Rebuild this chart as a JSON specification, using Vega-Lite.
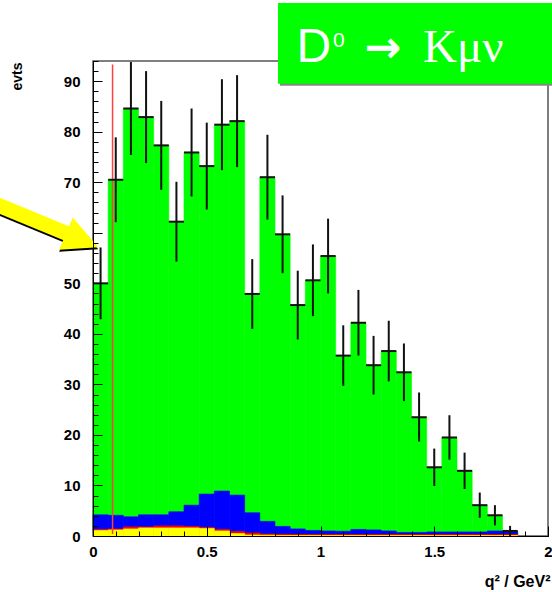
{
  "$schema": "https://vega.github.io/schema/vega-lite/v6.json",
  "width": 455,
  "height": 475,
  "autosize": "none",
  "padding": {"left": 93, "top": 61, "right": 4, "bottom": 56},
  "background": "white",
  "config": {
    "view": {"stroke": "#555555", "strokeWidth": 1.5},
    "axis": {"grid": false}
  },
  "resolve": {
    "scale": {"x": "independent", "y": "independent"},
    "axis": {"x": "independent", "y": "independent"}
  },
  "datasets": {
    "hist": [
      {"lo": 0, "hi": 0.0667, "c": 0.0333, "total": 50, "elo": 42.9, "ehi": 57.1, "blue": 4.2, "red": 1.3, "yellow": 1.1},
      {"lo": 0.0667, "hi": 0.1333, "c": 0.1, "total": 70.5, "elo": 62.1, "ehi": 78.9, "blue": 4.1, "red": 1.4, "yellow": 1.2},
      {"lo": 0.1333, "hi": 0.2, "c": 0.1667, "total": 84.6, "elo": 75.4, "ehi": 93.8, "blue": 3.8, "red": 1.8, "yellow": 1.4},
      {"lo": 0.2, "hi": 0.2667, "c": 0.2333, "total": 82.9, "elo": 73.8, "ehi": 92.0, "blue": 4.2, "red": 1.8, "yellow": 1.6},
      {"lo": 0.2667, "hi": 0.3333, "c": 0.3, "total": 77.3, "elo": 68.5, "ehi": 86.1, "blue": 4.2, "red": 2.0, "yellow": 1.6},
      {"lo": 0.3333, "hi": 0.4, "c": 0.3667, "total": 62.2, "elo": 54.3, "ehi": 70.1, "blue": 4.8, "red": 2.0, "yellow": 1.6},
      {"lo": 0.4, "hi": 0.4667, "c": 0.4333, "total": 75.9, "elo": 67.2, "ehi": 84.6, "blue": 6.1, "red": 1.9, "yellow": 1.6},
      {"lo": 0.4667, "hi": 0.5333, "c": 0.5, "total": 73.2, "elo": 64.6, "ehi": 81.8, "blue": 8.3, "red": 1.7, "yellow": 1.5},
      {"lo": 0.5333, "hi": 0.6, "c": 0.5667, "total": 81.4, "elo": 72.4, "ehi": 90.4, "blue": 8.9, "red": 1.3, "yellow": 1.0},
      {"lo": 0.6, "hi": 0.6667, "c": 0.6333, "total": 82.1, "elo": 73.0, "ehi": 91.2, "blue": 8.1, "red": 0.9, "yellow": 0.5},
      {"lo": 0.6667, "hi": 0.7333, "c": 0.7, "total": 47.9, "elo": 41.0, "ehi": 54.8, "blue": 4.6, "red": 0.6, "yellow": 0.2},
      {"lo": 0.7333, "hi": 0.8, "c": 0.7667, "total": 71.0, "elo": 62.6, "ehi": 79.4, "blue": 2.9, "red": 0.4, "yellow": 0.15},
      {"lo": 0.8, "hi": 0.8667, "c": 0.8333, "total": 59.7, "elo": 52.0, "ehi": 67.4, "blue": 1.9, "red": 0.35, "yellow": 0.1},
      {"lo": 0.8667, "hi": 0.9333, "c": 0.9, "total": 45.7, "elo": 38.9, "ehi": 52.5, "blue": 1.4, "red": 0.3, "yellow": 0.1},
      {"lo": 0.9333, "hi": 1.0, "c": 0.9667, "total": 50.6, "elo": 43.5, "ehi": 57.7, "blue": 1.1, "red": 0.3, "yellow": 0.1},
      {"lo": 1.0, "hi": 1.0667, "c": 1.0333, "total": 55.4, "elo": 48.0, "ehi": 62.8, "blue": 1.0, "red": 0.3, "yellow": 0.1},
      {"lo": 1.0667, "hi": 1.1333, "c": 1.1, "total": 35.7, "elo": 29.7, "ehi": 41.7, "blue": 0.95, "red": 0.3, "yellow": 0.1},
      {"lo": 1.1333, "hi": 1.2, "c": 1.1667, "total": 42.2, "elo": 35.7, "ehi": 48.7, "blue": 1.3, "red": 0.3, "yellow": 0.1},
      {"lo": 1.2, "hi": 1.2667, "c": 1.2333, "total": 33.8, "elo": 28.0, "ehi": 39.6, "blue": 1.2, "red": 0.3, "yellow": 0.1},
      {"lo": 1.2667, "hi": 1.3333, "c": 1.3, "total": 36.6, "elo": 30.6, "ehi": 42.6, "blue": 1.0, "red": 0.3, "yellow": 0.1},
      {"lo": 1.3333, "hi": 1.4, "c": 1.3667, "total": 32.4, "elo": 26.7, "ehi": 38.1, "blue": 0.7, "red": 0.3, "yellow": 0.1},
      {"lo": 1.4, "hi": 1.4667, "c": 1.4333, "total": 23.5, "elo": 18.7, "ehi": 28.4, "blue": 0.7, "red": 0.3, "yellow": 0.1},
      {"lo": 1.4667, "hi": 1.5333, "c": 1.5, "total": 13.6, "elo": 9.9, "ehi": 17.3, "blue": 0.8, "red": 0.3, "yellow": 0.1},
      {"lo": 1.5333, "hi": 1.6, "c": 1.5667, "total": 19.5, "elo": 15.1, "ehi": 23.9, "blue": 0.8, "red": 0.3, "yellow": 0.1},
      {"lo": 1.6, "hi": 1.6667, "c": 1.6333, "total": 12.9, "elo": 9.3, "ehi": 16.5, "blue": 0.8, "red": 0.3, "yellow": 0.1},
      {"lo": 1.6667, "hi": 1.7333, "c": 1.7, "total": 6.1, "elo": 3.6, "ehi": 8.6, "blue": 0.8, "red": 0.3, "yellow": 0.1},
      {"lo": 1.7333, "hi": 1.8, "c": 1.7667, "total": 4.1, "elo": 2.1, "ehi": 6.1, "blue": 1.0, "red": 0.3, "yellow": 0.1},
      {"lo": 1.8, "hi": 1.8667, "c": 1.8333, "total": 1.0, "elo": 0.0, "ehi": 2.0, "blue": 0.9, "red": 0.3, "yellow": 0.1}
    ],
    "cut": [{"x": 0.086, "y": 0.4, "y2": 93.3}],
    "box": [{"x": 0.8132, "x2": 2.06, "y": 105.5, "y2": 89.5}],
    "label": [{"xd": 0.894, "x0": 1.055, "xa": 1.192, "xk": 1.4505, "y": 93.8, "y0": 96.7}],
    "arrow": [{"x": -0.46, "y": 66.3, "x2": -0.09, "y2": 59.4, "tx": -0.048, "ty": 58.5}]
  },
  "layer": [
    {
      "layer": [
        {
          "data": {"name": "hist"},
          "mark": {"type": "rect", "color": "#00ff00", "stroke": "#00ff00", "strokeWidth": 0.6},
          "encoding": {
            "x": {
              "field": "lo", "type": "quantitative",
              "scale": {"domain": [0, 2], "nice": false, "zero": false},
              "axis": {
                "orient": "bottom",
                "values": [0, 0.5, 1, 1.5, 2],
                "format": "~g",
                "ticks": false,
                "labelFont": "Liberation Sans", "labelFontWeight": "bold", "labelFontSize": 15, "labelColor": "black",
                "labelFlush": false, "labelOverlap": false, "labelPadding": 8,
                "domainColor": "black", "domainWidth": 1, "zindex": 0,
                "title": "q² / GeV²", "titleFont": "Liberation Sans", "titleFontWeight": "bold", "titleFontSize": 16, "titleColor": "black",
                "titleAnchor": "end", "titleAlign": "right", "titleBaseline": "alphabetic", "titleX": 457, "titleY": 50
              }
            },
            "x2": {"field": "hi"},
            "y": {
              "field": "total", "type": "quantitative",
              "scale": {"domain": [0, 94], "nice": false, "zero": false},
              "axis": {
                "orient": "left",
                "values": [0, 10, 20, 30, 40, 50, 60, 70, 80, 90],
                "ticks": false,
                "labelFont": "Liberation Sans", "labelFontWeight": "bold", "labelFontSize": 15, "labelColor": "black",
                "labelFlush": false, "labelOverlap": false, "labelPadding": 13,
                "domainColor": "black", "domainWidth": 1, "zindex": 0,
                "title": "evts", "titleFont": "Liberation Sans", "titleFontWeight": "bold", "titleFontSize": 14, "titleColor": "black",
                "titleAngle": -90, "titleAlign": "right", "titleBaseline": "middle", "titleX": -76, "titleY": 1
              }
            },
            "y2": {"datum": 0}
          }
        },
        {
          "data": {"name": "hist"},
          "mark": {"type": "rect", "color": "#0000ff", "stroke": "#0000ff", "strokeWidth": 0.6},
          "encoding": {
            "x": {"field": "lo", "type": "quantitative"},
            "x2": {"field": "hi"},
            "y": {"field": "blue", "type": "quantitative"},
            "y2": {"datum": 0}
          }
        },
        {
          "data": {"name": "hist"},
          "mark": {"type": "rect", "color": "#ff0000", "stroke": "#ff0000", "strokeWidth": 0.6},
          "encoding": {
            "x": {"field": "lo", "type": "quantitative"},
            "x2": {"field": "hi"},
            "y": {"field": "red", "type": "quantitative"},
            "y2": {"datum": 0}
          }
        },
        {
          "data": {"name": "hist"},
          "mark": {"type": "rect", "color": "#ffff00", "stroke": "#ffff00", "strokeWidth": 0.6},
          "encoding": {
            "x": {"field": "lo", "type": "quantitative"},
            "x2": {"field": "hi"},
            "y": {"field": "yellow", "type": "quantitative"},
            "y2": {"datum": 0}
          }
        },
        {
          "data": {"name": "cut"},
          "mark": {"type": "rule", "color": "#ff4040", "strokeWidth": 1.5},
          "encoding": {
            "x": {"field": "x", "type": "quantitative"},
            "y": {"field": "y", "type": "quantitative"},
            "y2": {"field": "y2"}
          }
        },
        {
          "data": {"name": "box"},
          "mark": {"type": "rect", "color": "#888888", "xOffset": 2, "x2Offset": 2, "yOffset": 2, "y2Offset": 2},
          "encoding": {
            "x": {"field": "x", "type": "quantitative"},
            "x2": {"field": "x2"},
            "y": {"field": "y", "type": "quantitative"},
            "y2": {"field": "y2"}
          }
        },
        {
          "data": {"name": "box"},
          "mark": {"type": "rect", "color": "#00ff00"},
          "encoding": {
            "x": {"field": "x", "type": "quantitative"},
            "x2": {"field": "x2"},
            "y": {"field": "y", "type": "quantitative"},
            "y2": {"field": "y2"}
          }
        },
        {
          "data": {"name": "label"},
          "mark": {"type": "text", "text": "D", "font": "Liberation Sans", "fontSize": 48, "color": "white", "align": "left", "baseline": "alphabetic"},
          "encoding": {
            "x": {"field": "xd", "type": "quantitative"},
            "y": {"field": "y", "type": "quantitative"}
          }
        },
        {
          "data": {"name": "label"},
          "mark": {"type": "text", "text": "0", "font": "Liberation Sans", "fontSize": 21, "color": "white", "align": "left", "baseline": "alphabetic"},
          "encoding": {
            "x": {"field": "x0", "type": "quantitative"},
            "y": {"field": "y0", "type": "quantitative"}
          }
        },
        {
          "data": {"name": "label"},
          "mark": {"type": "text", "text": "→", "font": "DejaVu Sans", "fontWeight": "bold", "fontSize": 44, "color": "white", "align": "left", "baseline": "alphabetic"},
          "encoding": {
            "x": {"field": "xa", "type": "quantitative"},
            "y": {"field": "y", "type": "quantitative"}
          }
        },
        {
          "data": {"name": "label"},
          "mark": {"type": "text", "text": "Kμν", "font": "Liberation Serif", "fontSize": 47, "color": "white", "align": "left", "baseline": "alphabetic"},
          "encoding": {
            "x": {"field": "xk", "type": "quantitative"},
            "y": {"field": "y", "type": "quantitative"}
          }
        },
        {
          "data": {"name": "arrow"},
          "mark": {"type": "rule", "color": "black", "strokeWidth": 15, "strokeCap": "butt", "yOffset": 2, "y2Offset": 2},
          "encoding": {
            "x": {"field": "x", "type": "quantitative"},
            "x2": {"field": "x2"},
            "y": {"field": "y", "type": "quantitative"},
            "y2": {"field": "y2"}
          }
        },
        {
          "data": {"name": "arrow"},
          "mark": {"type": "point", "shape": "M -1 -1 L 1 0 L -1 1 Z", "size": 1225, "angle": 23, "filled": true, "color": "black", "opacity": 1, "yOffset": 2},
          "encoding": {
            "x": {"field": "tx", "type": "quantitative"},
            "y": {"field": "ty", "type": "quantitative"}
          }
        },
        {
          "data": {"name": "arrow"},
          "mark": {"type": "rule", "color": "#ffff00", "strokeWidth": 15, "strokeCap": "butt"},
          "encoding": {
            "x": {"field": "x", "type": "quantitative"},
            "x2": {"field": "x2"},
            "y": {"field": "y", "type": "quantitative"},
            "y2": {"field": "y2"}
          }
        },
        {
          "data": {"name": "arrow"},
          "mark": {"type": "point", "shape": "M -1 -1 L 1 0 L -1 1 Z", "size": 1225, "angle": 23, "filled": true, "color": "#ffff00", "opacity": 1},
          "encoding": {
            "x": {"field": "tx", "type": "quantitative"},
            "y": {"field": "ty", "type": "quantitative"}
          }
        }
      ]
    },
    {
      "data": {"name": "hist"},
      "mark": {"type": "rule", "color": "#111111", "strokeWidth": 2},
      "encoding": {
        "x": {"field": "c", "type": "quantitative",
          "scale": {"domain": [0, 2], "nice": false, "zero": false},
          "axis": {"orient": "bottom", "values": [0.1, 0.2, 0.3, 0.4, 0.6, 0.7, 0.8, 0.9, 1.1, 1.2, 1.3, 1.4, 1.6, 1.7, 1.8, 1.9],
                   "labelExpr": "''", "labelOverlap": false, "domainColor": "black", "domainWidth": 1, "title": " ", "titleOpacity": 0,
                   "tickSize": -5, "tickColor": "black", "tickWidth": 1, "zindex": 1}},
        "y": {"field": "elo", "type": "quantitative",
          "scale": {"domain": [0, 94], "nice": false, "zero": false},
          "axis": {"orient": "left", "values": [2, 4, 6, 8, 12, 14, 16, 18, 22, 24, 26, 28, 32, 34, 36, 38, 42, 44, 46, 48, 52, 54, 56, 58, 62, 64, 66, 68, 72, 74, 76, 78, 82, 84, 86, 88, 92, 94],
                   "labelExpr": "''", "labelOverlap": false, "domainColor": "black", "domainWidth": 1, "title": " ", "titleOpacity": 0,
                   "tickSize": -5, "tickColor": "black", "tickWidth": 1, "zindex": 1}},
        "y2": {"field": "ehi"}
      }
    },
    {
      "data": {"name": "hist"},
      "mark": {"type": "rule", "color": "#111111", "strokeWidth": 2},
      "encoding": {
        "x": {"field": "lo", "type": "quantitative",
          "scale": {"domain": [0, 2], "nice": false, "zero": false},
          "axis": {"orient": "bottom", "values": [0, 0.5, 1, 1.5, 2],
                   "labelExpr": "''", "labelOverlap": false, "domainColor": "black", "domainWidth": 1, "title": " ", "titleOpacity": 0,
                   "tickSize": -10, "tickColor": "black", "tickWidth": 1, "zindex": 1}},
        "x2": {"field": "hi"},
        "y": {"field": "total", "type": "quantitative",
          "scale": {"domain": [0, 94], "nice": false, "zero": false},
          "axis": {"orient": "left", "values": [0, 10, 20, 30, 40, 50, 60, 70, 80, 90],
                   "labelExpr": "''", "labelOverlap": false, "domainColor": "black", "domainWidth": 1, "title": " ", "titleOpacity": 0,
                   "tickSize": -9, "tickColor": "black", "tickWidth": 1, "zindex": 1}}
      }
    }
  ]
}
